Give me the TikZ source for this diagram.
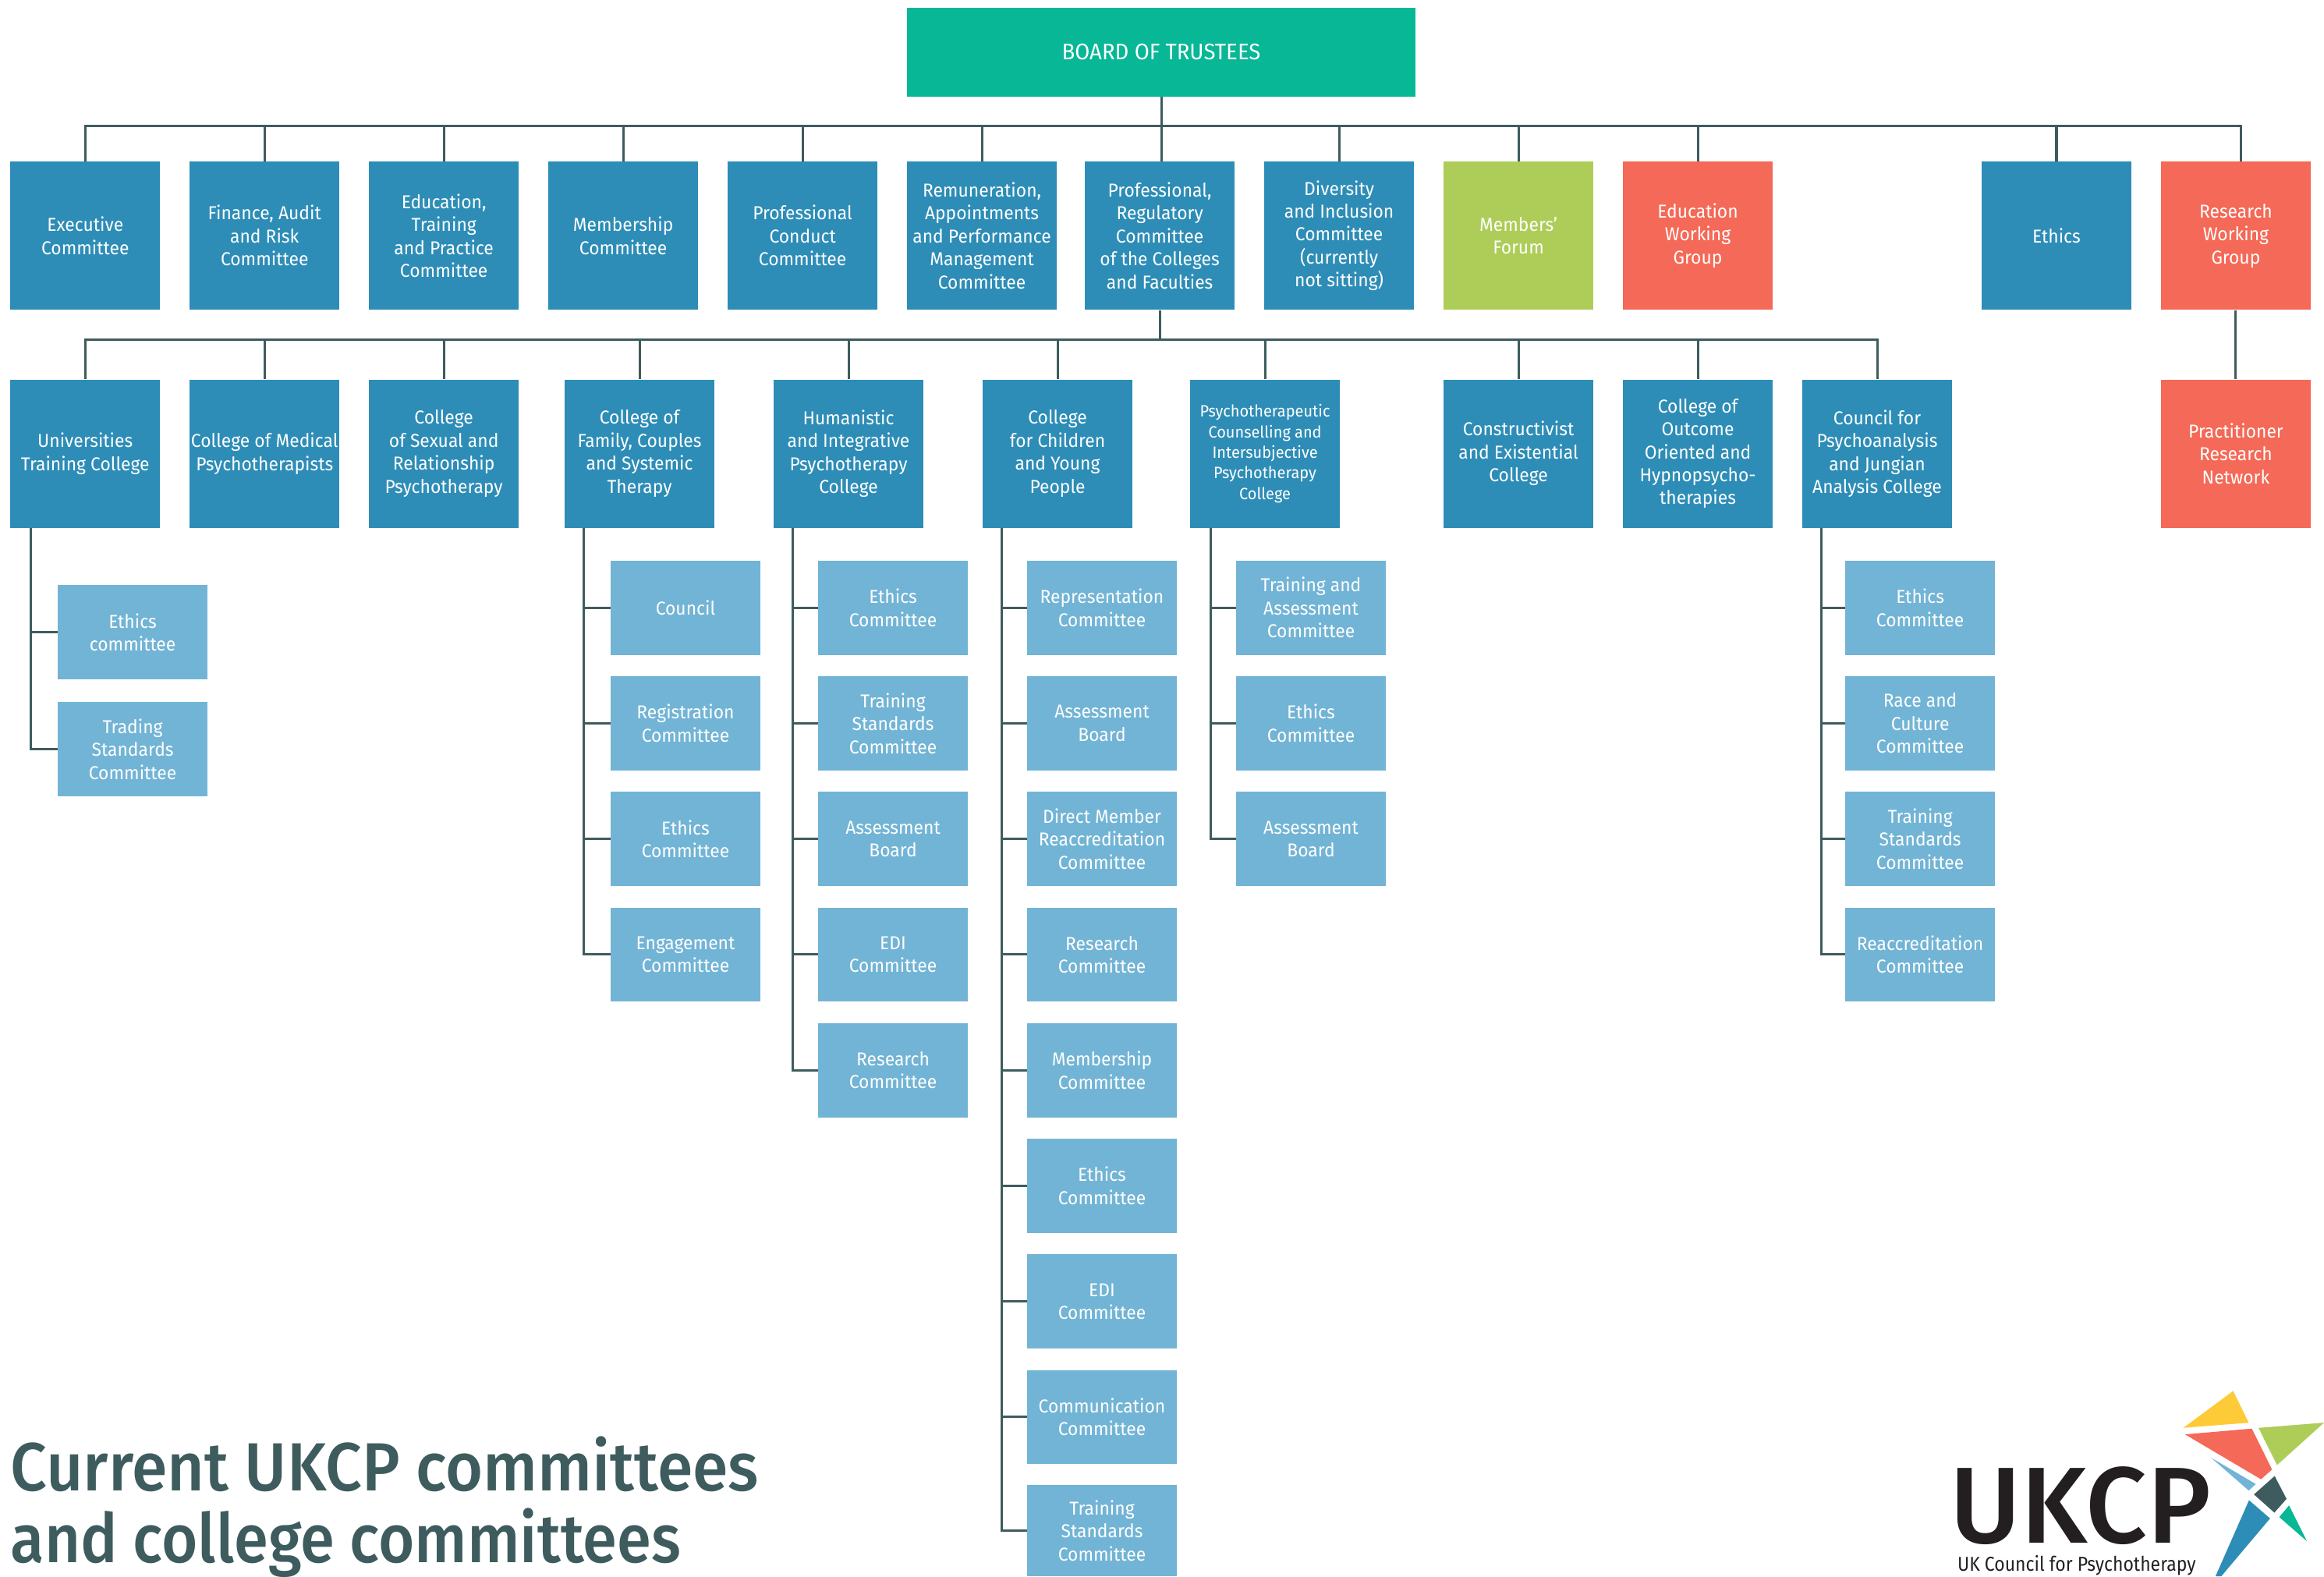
\documentclass[tikz,border=0pt]{standalone}
\usepackage{fontspec}
\usepackage{graphicx}
\setmainfont[FakeStretch=0.955]{Fira Sans}
\newfontfamily\logofont[FakeStretch=1.0]{Fira Sans Medium}
\newfontfamily\titlefont[FakeStretch=0.943]{Fira Sans Medium}
\newfontfamily\subfont[FakeStretch=0.89]{Fira Sans}
\definecolor{ublue}{HTML}{2D8DB7}
\definecolor{ulight}{HTML}{72B4D5}
\definecolor{uteal}{HTML}{07B795}
\definecolor{ugreen}{HTML}{ADCD58}
\definecolor{ucoral}{HTML}{F46957}
\definecolor{udark}{HTML}{3E5C5E}
\definecolor{uyellow}{HTML}{FDCB37}
\definecolor{uink}{HTML}{231F20}
\tikzset{
  x=1pt,y=-1pt,
  box/.style={rectangle,inner sep=0pt,align=center,text=white,minimum width=101pt,
    font=\fontsize{12.6}{15.5}\selectfont},
  top/.style={box,fill=ublue,minimum height=100pt},
  sub/.style={box,fill=ulight,minimum height=63.5pt},
  conn/.style={draw=udark,line width=1.6pt},
  titletext/.style={anchor=base west,inner sep=0pt,text=udark,font=\titlefont\fontsize{46}{48}\selectfont}
}
\begin{document}
\begin{tikzpicture}
\useasboundingbox (0,0) rectangle (1568,1063.4);
% board
\node[box,fill=uteal,minimum width=343pt,minimum height=60pt,font=\fontsize{15.2}{16}\selectfont] (board) at (783.5,35) {BOARD OF TRUSTEES};
% first row
\node[top] (exec) at (57.5,159) {Executive\\Committee};
\node[top] (fin) at (178.5,159) {Finance, Audit\\and Risk\\Committee};
\node[top] (edu) at (299.5,159) {Education,\\Training\\and Practice\\Committee};
\node[top] (mem) at (420.5,159) {Membership\\Committee};
\node[top] (con) at (541.5,159) {Professional\\Conduct\\Committee};
\node[top] (rem) at (662.5,159) {Remuneration,\\Appointments\\and Performance\\Management\\Committee};
\node[top] (prof) at (782.5,159) {Professional,\\Regulatory\\Committee\\of the Colleges\\and Faculties};
\node[top] (div) at (903.5,159) {Diversity\\and Inclusion\\Committee\\(currently\\not sitting)};
\node[top,fill=ugreen] (forum) at (1024.5,159) {Members’\\Forum};
\node[top,fill=ucoral] (ewg) at (1145.5,159) {Education\\Working\\Group};
\node[top] (eth) at (1387.5,159) {Ethics};
\node[top,fill=ucoral] (rwg) at (1508.5,159) {Research\\Working\\Group};
% second row
\node[top] (uni) at (57.5,306) {Universities\\Training College};
\node[top] (med) at (178.5,306) {College of Medical\\Psychotherapists};
\node[top] (sex) at (299.5,306) {College\\of Sexual and\\Relationship\\Psychotherapy};
\node[top] (fam) at (431.5,306) {College of\\Family, Couples\\and Systemic\\Therapy};
\node[top] (hum) at (572.5,306) {Humanistic\\and Integrative\\Psychotherapy\\College};
\node[top] (chi) at (713.5,306) {College\\for Children\\and Young\\People};
\node[top,font=\fontsize{11}{13.9}\selectfont] (psy) at (853.5,306) {Psychotherapeutic\\Counselling and\\Intersubjective\\Psychotherapy\\College};
\node[top] (cons) at (1024.5,306) {Constructivist\\and Existential\\College};
\node[top] (out) at (1145.5,306) {College of\\Outcome\\Oriented and\\Hypnopsycho-\\therapies};
\node[top] (cou) at (1266.5,306) {Council for\\Psychoanalysis\\and Jungian\\Analysis College};
\node[top,fill=ucoral] (prn) at (1508.5,306) {Practitioner\\Research\\Network};
% Universities children
\node[sub] (u1) at (89.5,426.5) {Ethics\\committee};
\node[sub] (u2) at (89.5,505.5) {Trading\\Standards\\Committee};
% Family children
\node[sub] (f1) at (462.5,410) {Council};
\node[sub] (f2) at (462.5,488) {Registration\\Committee};
\node[sub] (f3) at (462.5,566) {Ethics\\Committee};
\node[sub] (f4) at (462.5,644) {Engagement\\Committee};
% Humanistic children
\node[sub] (h1) at (602.5,410) {Ethics\\Committee};
\node[sub] (h2) at (602.5,488) {Training\\Standards\\Committee};
\node[sub] (h3) at (602.5,566) {Assessment\\Board};
\node[sub] (h4) at (602.5,644) {EDI\\Committee};
\node[sub] (h5) at (602.5,722) {Research\\Committee};
% Children children
\node[sub] (c1) at (743.5,410) {Representation\\Committee};
\node[sub] (c2) at (743.5,488) {Assessment\\Board};
\node[sub] (c3) at (743.5,566) {Direct Member\\Reaccreditation\\Committee};
\node[sub] (c4) at (743.5,644) {Research\\Committee};
\node[sub] (c5) at (743.5,722) {Membership\\Committee};
\node[sub] (c6) at (743.5,800) {Ethics\\Committee};
\node[sub] (c7) at (743.5,878) {EDI\\Committee};
\node[sub] (c8) at (743.5,956) {Communication\\Committee};
\node[sub,minimum height=61.4pt] (c9) at (743.5,1032.7) {Training\\Standards\\Committee};
% Psychotherapeutic children
\node[sub] (p1) at (884.5,410) {Training and\\Assessment\\Committee};
\node[sub] (p2) at (884.5,488) {Ethics\\Committee};
\node[sub] (p3) at (884.5,566) {Assessment\\Board};
% Council children
\node[sub] (k1) at (1295.5,410) {Ethics\\Committee};
\node[sub] (k2) at (1295.5,488) {Race and\\Culture\\Committee};
\node[sub] (k3) at (1295.5,566) {Training\\Standards\\Committee};
\node[sub] (k4) at (1295.5,644) {Reaccreditation\\Committee};
% buses
\coordinate (busA) at (783.5,85);
\coordinate (busB) at (783.5,229);
\coordinate (rwgTop) at (1512,109);
\draw[conn] (board.south) -- (board.south |- prof.north);
\foreach \n in {exec,fin,edu,mem,con,rem,div,forum,ewg,eth} \draw[conn] (\n.north) |- (busA);
\draw[conn] (rwgTop) |- (busA);
\draw[conn] (prof.south) -- (prof.south |- busB);
\foreach \n in {uni,med,sex,fam,hum,chi,psy,cons,out,cou} \draw[conn] (\n.north) |- (busB);
\draw[conn] (rwg.south) -- (prn.north);
% spines
\coordinate (su) at (21,356);
\coordinate (sf) at (394,356);
\coordinate (sh) at (535,356);
\coordinate (sc) at (676,356);
\coordinate (sp) at (817,356);
\coordinate (sk) at (1229,356);
\foreach \n in {u1,u2} \draw[conn] (su) |- (\n.west);
\foreach \n in {f1,f2,f3,f4} \draw[conn] (sf) |- (\n.west);
\foreach \n in {h1,h2,h3,h4,h5} \draw[conn] (sh) |- (\n.west);
\foreach \n in {c1,c2,c3,c4,c5,c6,c7,c8,c9} \draw[conn] (sc) |- (\n.west);
\foreach \n in {p1,p2,p3} \draw[conn] (sp) |- (\n.west);
\foreach \n in {k1,k2,k3,k4} \draw[conn] (sk) |- (\n.west);
% title
\node[titletext] (title1) at (7,1006) {Current UKCP committees};
\node[titletext] (title2) at (7,1054) {\scalebox{0.965}[1]{and college committees}};
% logo
\fill[uyellow] (1506.7,938.4) -- (1517.2,959.8) -- (1473,963.3) -- cycle;
\fill[ucoral] (1474.2,967.7) -- (1519.3,963.8) -- (1532.9,991.4) -- (1525.5,998) -- cycle;
\fill[ugreen] (1523.8,963.3) -- (1568,959.8) -- (1536.3,988.4) -- cycle;
\fill[ulight] (1491.9,983.5) -- (1522,1001.2) -- (1517.2,1005.6) -- cycle;
\fill[udark] (1534.7,995.8) -- (1542.7,1011.2) -- (1534.5,1020.5) -- (1520.7,1008.2) -- cycle;
\fill[ublue] (1517.4,1012.1) -- (1531.6,1024.4) -- (1498.7,1063.4) -- (1494.8,1063.4) -- cycle;
\fill[uteal] (1544.4,1015.6) -- (1556.5,1039.8) -- (1537.8,1023.5) -- cycle;
\node[anchor=base west,inner sep=0pt,text=uink,font=\logofont\fontsize{73}{73}\selectfont] (logo) at (1315.5,1041) {UKCP};
\node[anchor=base west,inner sep=0pt,text=uink,font=\subfont\fontsize{13.6}{15}\selectfont] (logosub) at (1320.5,1059.8) {UK Council for Psychotherapy};
\end{tikzpicture}
\end{document}
